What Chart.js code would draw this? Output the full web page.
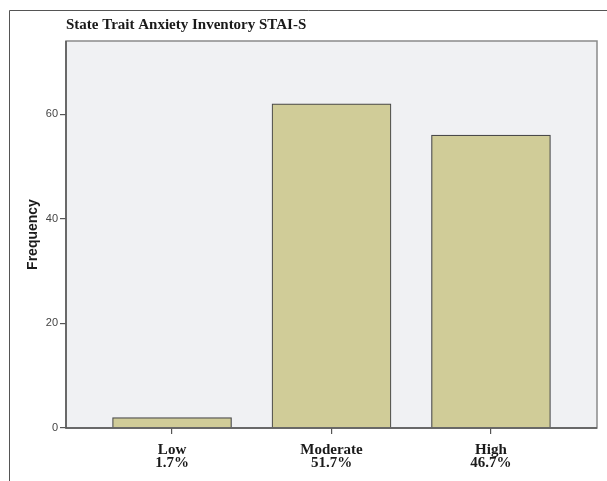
<!DOCTYPE html>
<html lang="en">
<head>
	<meta charset="utf-8">
	<script src="https://cdn.jsdelivr.net/npm/chart.js@4/dist/chart.umd.min.js"></script>
	<title>State Trait Anxiety Inventory STAI-S</title>
<style>
html, body { margin: 0; padding: 0; background: #fff; }
.box { width: 607px; height: 481px; position: relative; }
</style>
</head>
<body>
	<div class="box">
		<canvas id="myChart"></canvas>
	</div>
<script>
const categories = ['Low', 'Moderate', 'High'];
const percents = ['1.7%', '51.7%', '46.7%'];
const frequency = [2, 62, 56];
const yTicks = [0, 20, 40, 60];

// gray plot panel, its frame and the outer figure border
const panel = {
	id: 'panel',
	beforeDraw(chart) {
		const c = chart.ctx, a = chart.chartArea;
		c.save();
		c.fillStyle = '#f0f1f3';
		c.fillRect(a.left, a.top, a.right - a.left, a.bottom - a.top);
		c.strokeStyle = '#555';
		c.lineWidth = 1;
		c.beginPath();
		c.moveTo(9.5, chart.height);
		c.lineTo(9.5, 10.5);
		c.lineTo(chart.width, 10.5);
		c.stroke();
		c.restore();
	},
	afterDraw(chart) {
		const c = chart.ctx, a = chart.chartArea;
		c.save();
		c.strokeStyle = '#8a8a8a';
		c.lineWidth = 1.5;
		c.strokeRect(a.left, a.top, a.right - a.left, a.bottom - a.top);
		c.strokeStyle = '#555';
		c.lineWidth = 1.5;
		c.beginPath();
		c.moveTo(a.left, a.top);
		c.lineTo(a.left, a.bottom);
		c.lineTo(a.right, a.bottom);
		c.stroke();
		c.restore();
	}
};

const ctx = document.getElementById('myChart');
new Chart(ctx, {
	type: 'bar',
	data: {
		datasets: [{
			label: 'Frequency',
			data: frequency.map((v, i) => ({x: i, y: v})),
			backgroundColor: '#d0cc98',
			borderColor: '#4a4a4a',
			borderWidth: 1.2,
			barThickness: 119
		}]
	},
	plugins: [panel],
	options: {
		responsive: true,
		maintainAspectRatio: false,
		animation: false,
		layout: { padding: { top: 10, right: 10, left: 0, bottom: 0 } },
		plugins: {
			legend: { display: false },
			tooltip: { enabled: false },
			title: {
				display: true,
				text: 'State Trait Anxiety Inventory STAI-S',
				align: 'start',
				fullSize: false,
				color: '#1a1a1a',
				font: { family: 'Liberation Serif', size: 15, weight: 'bold' },
				padding: { top: 6, bottom: 7 }
			}
		},
		scales: {
			x: {
				type: 'linear',
				min: -0.665,
				max: 2.665,
				offset: false,
				afterBuildTicks(s) { s.ticks = categories.map((c, i) => ({value: i})); },
				afterFit(s) { s.height = 53; },
				border: { display: false },
				grid: { offset: false, drawOnChartArea: false, drawTicks: true, tickLength: 6, color: '#555', lineWidth: 1.2 },
				ticks: {
					autoSkip: false,
					maxRotation: 0,
					padding: 10,
					color: '#1a1a1a',
					font: { family: 'Liberation Serif', size: 15, weight: 'bold', lineHeight: 0.85 },
					callback: v => [categories[v], percents[v]]
				}
			},
			y: {
				min: 0,
				max: 74,
				afterBuildTicks(s) { s.ticks = yTicks.map(v => ({value: v})); },
				afterFit(s) { s.width = 66; },
				border: { display: false },
				grid: { drawOnChartArea: false, drawTicks: true, tickLength: 6, color: '#555', lineWidth: 1.2 },
				ticks: {
					padding: 2,
					color: '#444',
					font: { family: 'Liberation Sans', size: 11 }
				},
				title: {
					display: true,
					text: 'Frequency',
					color: '#1a1a1a',
					font: { family: 'Liberation Sans', size: 14, weight: 'bold' },
					padding: { top: 25, bottom: 0 }
				}
			}
		}
	}
});
</script>
</body>
</html>
